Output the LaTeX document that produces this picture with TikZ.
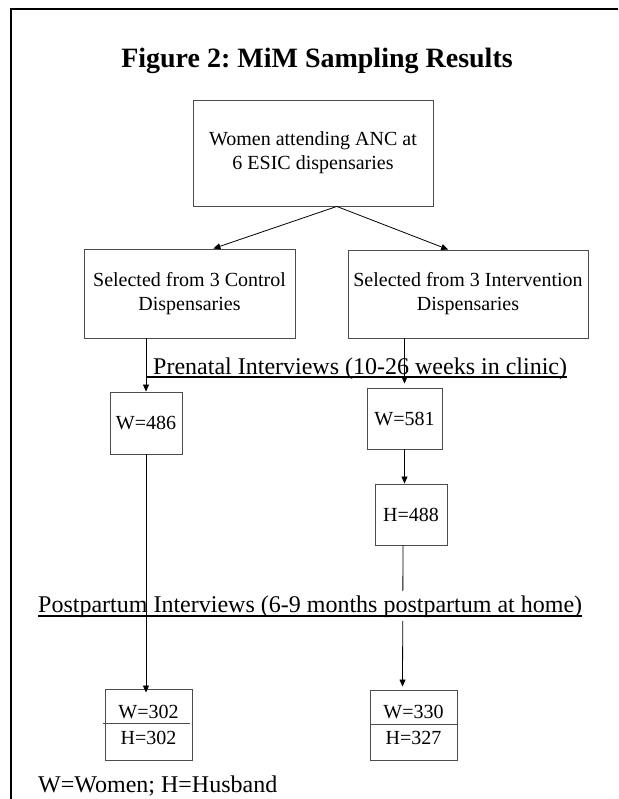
\documentclass[tikz,border=0pt]{standalone}
\usepackage{fontspec}
\setmainfont{Liberation Serif}
\usetikzlibrary{arrows.meta}
\usetikzlibrary{calc}
\frenchspacing

\begin{document}
\begin{tikzpicture}[x=1pt,y=-1pt,
  box/.style={draw=black!70,line width=0.9pt,align=center,inner sep=0pt,font=\fontsize{20}{24}\selectfont},
  arr/.style={-{Triangle[length=7pt,width=6pt]},line width=0.8pt},
  uline/.style={line width=2pt},
  intv/.style={inner sep=0pt,font=\fontsize{24}{28}\selectfont}]
\useasboundingbox (0,0) rectangle (618,799);

% Draw the page frame (top and left edges only)
\draw[line width=2.5pt] (618,9) -- (11,9) -- (11,799);

% Title
\node[font=\bfseries\fontsize{28}{32}\selectfont,anchor=base] (title) at (317,68) {Figure 2: MiM Sampling Results};

% Boxes
\node[box,minimum width=240pt,minimum height=106pt] (anc) at (313,153) {Women attending ANC at\\6 ESIC dispensaries};
\node[box,minimum width=211pt,minimum height=89pt] (control) at (189.5,293.5) {Selected from 3 Control\\Dispensaries};
\node[box,minimum width=240pt,minimum height=88pt] (interv) at (468,294) {Selected from 3 Intervention\\Dispensaries};
\node[box,minimum width=72pt,minimum height=62pt] (w486) at (146,423) {W=486};
\node[box,minimum width=75pt,minimum height=61pt] (w581) at (404.5,418.5) {W=581};
\node[box,minimum width=72pt,minimum height=61pt] (h488) at (411,514.5) {H=488};
\node[box,minimum width=87pt,minimum height=71pt,font=\fontsize{20}{26}\selectfont] (w302) at (148.5,724.5) {W=302\\H=302};
\node[box,minimum width=87pt,minimum height=70pt,font=\fontsize{20}{26}\selectfont] (w330) at (413.5,725) {W=330\\H=327};
\draw[draw=black!70,line width=0.9pt] ([xshift=-2pt,yshift=1.5pt]w302.west) -- ([xshift=-2pt,yshift=1.5pt]w302.east);
\draw[draw=black!70,line width=0.9pt] ([yshift=1pt]w330.west) -- ([yshift=1pt]w330.east);

% Split into the two arms
\draw[arr] (anc.-66) -- (control.62);
\draw[arr] (anc.-66) -- (interv.114);

% Prenatal interviews
\draw[arr] (control.south -| w486.north) -- (w486.north);
\draw[arr,shorten >=4pt] (interv.south -| w581.north) -- (w581.north);
\node[intv,anchor=base west] (prenatal) at (153,374) {Prenatal Interviews (10-26 weeks in clinic)};
\draw[uline] ($(prenatal.base west -| w486.north)+(0,3)$) -- ($(prenatal.base east)+(0,3)$);
\draw[arr] (w581.south) -- (w581.south |- h488.north);

% Postpartum interviews
\draw[arr] ($(h488.south)+(-8,0)$) -- ($(w330.north)+(-11,-3)$);
\node[intv,fill=white,inner ysep=4pt,anchor=base west] (postpartum) at (38,612) {Postpartum Interviews (6-9 months postpartum at home)};
\draw[uline] ($(postpartum.base west)+(0,3.5)$) -- ($(postpartum.base east)+(0,3.5)$);
\draw[arr] (w486.south) -- ($(w486.south |- w302.north)+(0,4)$);

% Key
\node[intv,anchor=base west] (legend) at (38,792) {W=Women; H=Husband};
\end{tikzpicture}
\end{document}
